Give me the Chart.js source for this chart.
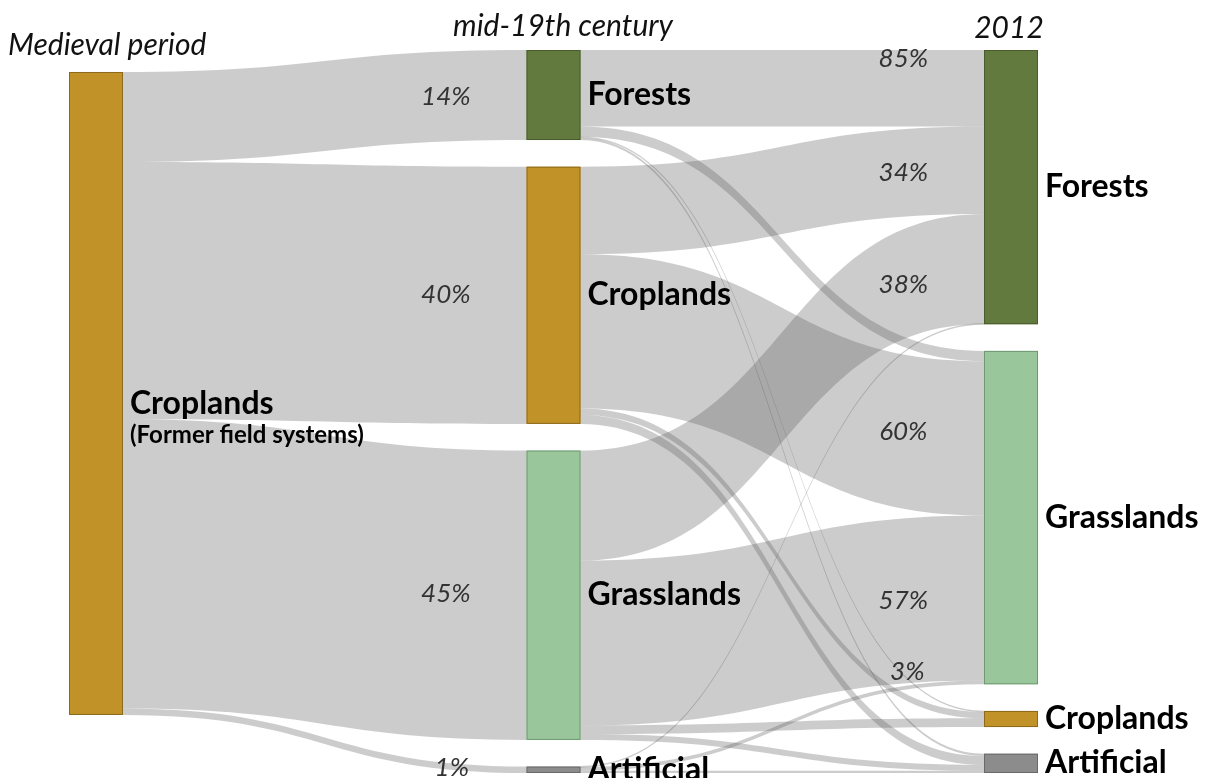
<!DOCTYPE html>
<html><head><meta charset="utf-8">
<script src="https://cdn.jsdelivr.net/npm/chart.js@4/dist/chart.umd.min.js"></script>
<style>html,body{margin:0;padding:0;background:#fff;}canvas{display:block}</style>
</head><body>
<canvas id="c" width="1209" height="778"></canvas>
<script>
// ---------------- DATA ----------------
const columnTitles = ['Medieval period', 'mid-19th century', '2012'];

const nodeIds      = ['C0', 'F1', 'C1', 'G1', 'A1', 'F2', 'G2', 'C2', 'A2'];
const nodeNames    = ['Croplands', 'Forests', 'Croplands', 'Grasslands', 'Artificial',
                      'Forests', 'Grasslands', 'Croplands', 'Artificial'];
const nodeSubNames = ['(Former field systems)', '', '', '', '', '', '', '', ''];
const nodeColumns  = [0, 1, 1, 1, 1, 2, 2, 2, 2];
const nodeKinds    = ['crop', 'forest', 'crop', 'grass', 'artificial',
                      'forest', 'grass', 'crop', 'artificial'];

// flows (share of the medieval cropland area, %)
const flowFrom   = ['C0','C0','C0','C0',
                    'F1','F1','F1','F1',
                    'C1','C1','C1','C1',
                    'G1','G1','G1','G1',
                    'A1','A1','A1'];
const flowTo     = ['F1','C1','G1','A1',
                    'F2','G2','C2','A2',
                    'F2','G2','C2','A2',
                    'F2','G2','C2','A2',
                    'F2','G2','A2'];
const flowValues = [14, 40, 45, 1,
                    11.9, 1.6, 0.15, 0.35,
                    13.6, 24.0, 1.0, 1.4,
                    17.1, 25.65, 1.35, 0.9,
                    0.05, 0.6, 0.35];
const flowShowPct = [true, true, true, true,
                     true, false, false, false,
                     true, true, false, false,
                     true, true, true, false,
                     false, false, false];

// ---------------- STYLE ----------------
const kindFill   = { crop: 'rgb(192,146,40)', forest: 'rgb(99,122,62)', grass: 'rgb(153,198,154)', artificial: 'rgb(140,140,140)' };
const kindStroke = { crop: 'rgb(140,105,28)', forest: 'rgb(72,92,44)', grass: 'rgb(112,152,114)', artificial: 'rgb(105,105,105)' };

const sankeyPlugin = {
  id: 'sankeyDraw',
  afterDatasetsDraw(chart, args, o) {
    const { ctx, scales: { x, y } } = chart;
    const nodes = nodeIds.map((id, i) => ({ id, i, col: nodeColumns[i], inSum: 0, outSum: 0, inCur: 0, outCur: 0 }));
    const byId = {}; nodes.forEach(n => byId[n.id] = n);
    flowValues.forEach((v, k) => { byId[flowFrom[k]].outSum += v; byId[flowTo[k]].inSum += v; });
    nodes.forEach(n => n.value = Math.max(n.inSum, n.outSum));
    const cursor = o.columnOffsets.slice();
    nodes.forEach(n => {
      n.top = cursor[n.col];
      n.bottom = n.top + n.value;
      cursor[n.col] = n.bottom + o.gap;
      n.px0 = x.getPixelForValue(n.col);
      n.px1 = n.px0 + o.nodeWidth;
      n.py0 = y.getPixelForValue(n.top);
      n.py1 = y.getPixelForValue(n.bottom);
    });
    const flows = flowValues.map((v, k) => {
      const s = byId[flowFrom[k]], t = byId[flowTo[k]];
      const f = {
        v, s, t,
        sy0: y.getPixelForValue(s.top + s.outCur),
        sy1: y.getPixelForValue(s.top + s.outCur + v),
        ty0: y.getPixelForValue(t.top + t.inCur),
        ty1: y.getPixelForValue(t.top + t.inCur + v),
        x0: s.px1, x1: t.px0
      };
      s.outCur += v; t.inCur += v;
      return f;
    });
    ctx.save();
    ctx.fillStyle = o.flowColor;
    flows.forEach(f => {
      let { sy0, sy1, ty0, ty1 } = f;
      const minW = o.minFlowWidth;
      if (sy1 - sy0 < minW) { const c = (sy0 + sy1) / 2; sy0 = c - minW / 2; sy1 = c + minW / 2; }
      if (ty1 - ty0 < minW) { const c = (ty0 + ty1) / 2; ty0 = c - minW / 2; ty1 = c + minW / 2; }
      const xm = (f.x0 + f.x1) / 2;
      ctx.beginPath();
      ctx.moveTo(f.x0, sy0);
      ctx.bezierCurveTo(xm, sy0, xm, ty0, f.x1, ty0);
      ctx.lineTo(f.x1, ty1);
      ctx.bezierCurveTo(xm, ty1, xm, sy1, f.x0, sy1);
      ctx.closePath();
      ctx.fill();
    });
    nodes.forEach(n => {
      const k = nodeKinds[n.i];
      ctx.fillStyle = kindFill[k];
      ctx.fillRect(n.px0, n.py0, o.nodeWidth, n.py1 - n.py0);
      ctx.strokeStyle = kindStroke[k];
      ctx.lineWidth = 1;
      ctx.strokeRect(n.px0 + 0.5, n.py0 + 0.5, o.nodeWidth - 1, n.py1 - n.py0 - 1);
    });
    ctx.font = o.pctFont;
    ctx.fillStyle = o.pctColor;
    ctx.textAlign = 'center';
    ctx.textBaseline = 'middle';
    flows.forEach((f, k) => {
      if (!flowShowPct[k]) return;
      let lo = 0, hi = 1;
      for (let it = 0; it < 40; it++) {
        const m = (lo + hi) / 2;
        const fx = 1.5 * m * (1 - m) + m * m * m;
        if (fx < o.pctPos) lo = m; else hi = m;
      }
      const s = (lo + hi) / 2;
      const g = 3 * s * s - 2 * s * s * s;
      const yc = ((f.sy0 + f.sy1) / 2) + (((f.ty0 + f.ty1) / 2) - ((f.sy0 + f.sy1) / 2)) * g;
      const xc = f.x0 + (f.x1 - f.x0) * o.pctPos;
      const pct = Math.round(f.v / f.s.value * 100) + '%';
      ctx.fillText(pct, xc + (o.pctDx[k] || 0), yc + (o.pctDy[k] || 0));
    });
    ctx.textAlign = 'left';
    ctx.textBaseline = 'alphabetic';
    ctx.fillStyle = '#000';
    nodes.forEach(n => {
      const cy = (n.py0 + n.py1) / 2;
      const lx = n.px1 + o.labelGap;
      ctx.font = o.nodeFont;
      if (nodeSubNames[n.i]) {
        ctx.fillText(nodeNames[n.i], lx, cy + 21);
        ctx.font = o.subFont;
        ctx.fillText(nodeSubNames[n.i], lx, cy + 50);
      } else {
        ctx.fillText(nodeNames[n.i], lx, cy + 10);
      }
    });
    ctx.font = o.titleFont;
    ctx.fillStyle = '#111';
    columnTitles.forEach((t, c) => {
      const a = o.titleAnchors[c];
      ctx.textAlign = a.align;
      ctx.fillText(t, a.x, a.y);
    });
    ctx.restore();
  }
};

new Chart(document.getElementById('c'), {
  type: 'scatter',
  data: { datasets: [{ data: [] }] },
  options: {
    responsive: false,
    animation: false,
    events: [],
    layout: { padding: { left: 69, right: 225, top: 50, bottom: 5 } },
    scales: {
      x: { type: 'linear', min: 0, max: 2, display: false },
      y: { type: 'linear', min: 0, max: 112.45, reverse: true, display: false }
    },
    plugins: {
      legend: { display: false },
      tooltip: { enabled: false },
      sankeyDraw: {
        gap: 4.15,
        columnOffsets: [3.42, 0, 0],
        nodeWidth: 54,
        minFlowWidth: 1.6,
        labelGap: 7,
        flowColor: 'rgba(85,85,85,0.3)',
        pctFont: 'italic 26px Lato',
        pctColor: '#333',
        pctPos: 0.8,
        pctDx: { 3: 6, 14: 4 },
        pctDy: { 3: 2, 4: -30, 14: -52 },
        nodeFont: 'bold 32px Lato',
        subFont: 'bold 24px Lato',
        titleFont: 'italic 30px Lato',
        titleAnchors: [
          { x: 8, y: 55, align: 'left' },
          { x: 563, y: 36, align: 'center' },
          { x: 1009, y: 38, align: 'center' }
        ]
      }
    }
  },
  plugins: [sankeyPlugin]
});
</script>
</body></html>
